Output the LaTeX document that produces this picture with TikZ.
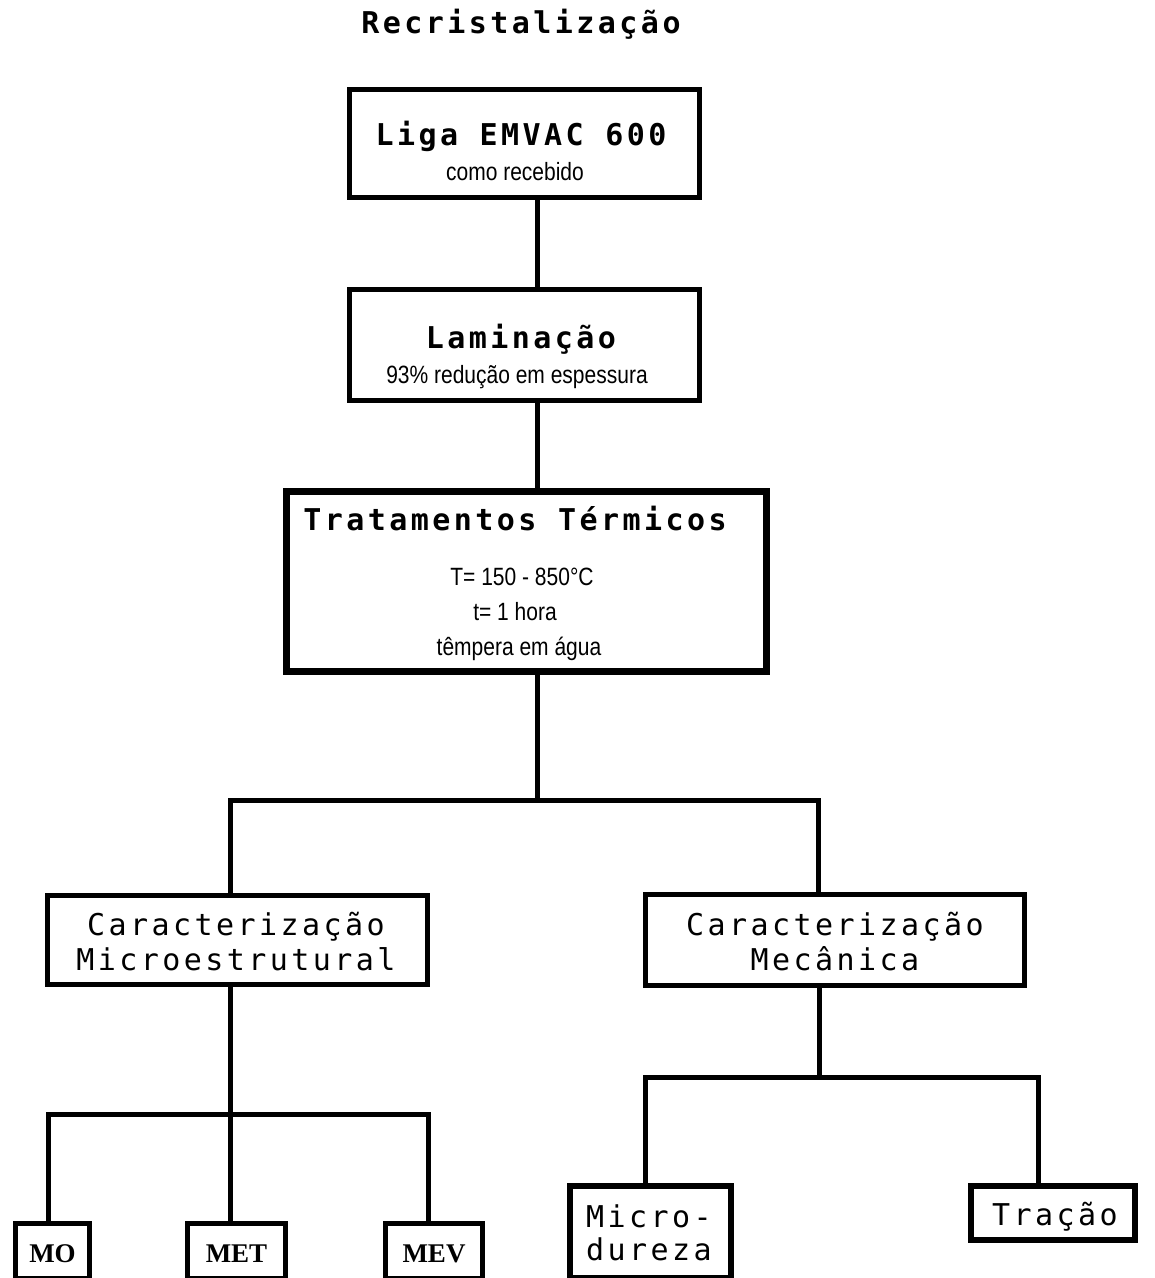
\documentclass[tikz,border=0pt]{standalone}
\usepackage{fontspec}
\setmainfont{Liberation Sans}
\newfontfamily\mono[LetterSpace=11.5]{DejaVu Sans Mono}
\newfontfamily\cond[FakeStretch=0.84]{Liberation Sans}
\newfontfamily\tim{Liberation Serif}
\begin{document}
\begin{tikzpicture}[x=1pt,y=-1pt,
  box/.style={draw, rectangle, line width=5pt, inner sep=0pt, fill=white},
  conn/.style={line width=5pt},
  mtxt/.style={anchor=base, inner sep=0pt, font=\mono\fontsize{30}{30}\selectfont},
  btxt/.style={anchor=base, inner sep=0pt, font=\mono\bfseries\fontsize{30}{30}\selectfont},
  stxt/.style={anchor=base, inner sep=0pt, font=\cond\fontsize{25}{25}\selectfont},
  ttxt/.style={anchor=base, inner sep=0pt, font=\tim\bfseries\fontsize{27}{27}\selectfont}]
\useasboundingbox (0,0) rectangle (1155,1278);
\fill[white] (0,0) rectangle (1155,1278);

% coordinates for connectors
\coordinate (j0) at (537,0);
\coordinate (s1) at (537,800);
\coordinate (s1l) at (230,800);
\coordinate (s1r) at (818,800);
\coordinate (s2) at (230,1114);
\coordinate (s2l) at (48,1114);
\coordinate (s2r) at (428,1114);
\coordinate (s3) at (819,1077);
\coordinate (s3l) at (645,1077);
\coordinate (s3r) at (1038,1077);

% boxes
\node[box, minimum width=350pt, minimum height=108pt] (b1) at (524.5,143.5) {};
\node[box, minimum width=350pt, minimum height=111pt] (b2) at (524.5,345) {};
\node[box, line width=7pt, minimum width=480pt, minimum height=180pt] (b3) at (526.5,581.5) {};
\node[box, minimum width=380pt, minimum height=89pt] (b4) at (237.5,940) {};
\node[box, minimum width=379pt, minimum height=91pt] (b5) at (835,940) {};
\node[box, minimum width=74pt, minimum height=55pt] (mo) at (52.5,1251) {};
\node[box, minimum width=98pt, minimum height=55pt] (met) at (236.5,1251) {};
\node[box, minimum width=97pt, minimum height=55pt] (mev) at (434,1251) {};
\node[box, line width=6pt, minimum width=161pt, minimum height=92pt] (mic) at (650.5,1232) {};
\node[box, line width=6pt, minimum width=164pt, minimum height=54pt] (tra) at (1053,1213) {};

% connectors
\draw[conn] (b1.south -| j0) -- (b2.north -| j0);
\draw[conn] (b2.south -| j0) -- (b3.north -| j0);
\draw[conn] (b3.south -| s1) -- (s1);
\draw[conn] (b4.north -| s1l) -- (s1l) -- (s1r) -- (b5.north -| s1r);
\draw[conn] (b4.south -| s2) -- (s2) -- (met.north -| s2);
\draw[conn] (mo.north -| s2l) -- (s2l) -- (s2r) -- (mev.north -| s2r);
\draw[conn] (b5.south -| s3) -- (s3);
\draw[conn] (mic.north -| s3l) -- (s3l) -- (s3r) -- (tra.north -| s3r);

% texts
\node[btxt] (title) at (521,33) {Recristalização};
\node[btxt] (t1a) at (521,145) {Liga EMVAC 600};
\node[stxt] (t1b) at (515,180) {como recebido};
\node[btxt] (t2a) at (521,348) {Laminação};
\node[stxt] (t2b) at (517,383) {93\% redução em espessura};
\node[btxt] (t3a) at (515,530) {Tratamentos Térmicos};
\node[stxt] (t3b) at (522,585) {T= 150 - 850°C};
\node[stxt] (t3c) at (515,620) {t= 1 hora};
\node[stxt] (t3d) at (519,655) {têmpera em água};
\node[mtxt] (t4a) at (236,935) {Caracterização};
\node[mtxt] (t4b) at (236,970) {Microestrutural};
\node[mtxt] (t5a) at (835,935) {Caracterização};
\node[mtxt] (t5b) at (835,970) {Mecânica};
\node[ttxt] (tmo) at (52.5,1262) {MO};
\node[ttxt] (tmet) at (236.5,1262) {MET};
\node[ttxt] (tmev) at (434,1262) {MEV};
\node[mtxt] (tmic1) at (649,1227) {Micro-};
\node[mtxt] (tmic2) at (649,1260) {dureza};
\node[mtxt] (ttra) at (1055,1225) {Tração};
\end{tikzpicture}
\end{document}
